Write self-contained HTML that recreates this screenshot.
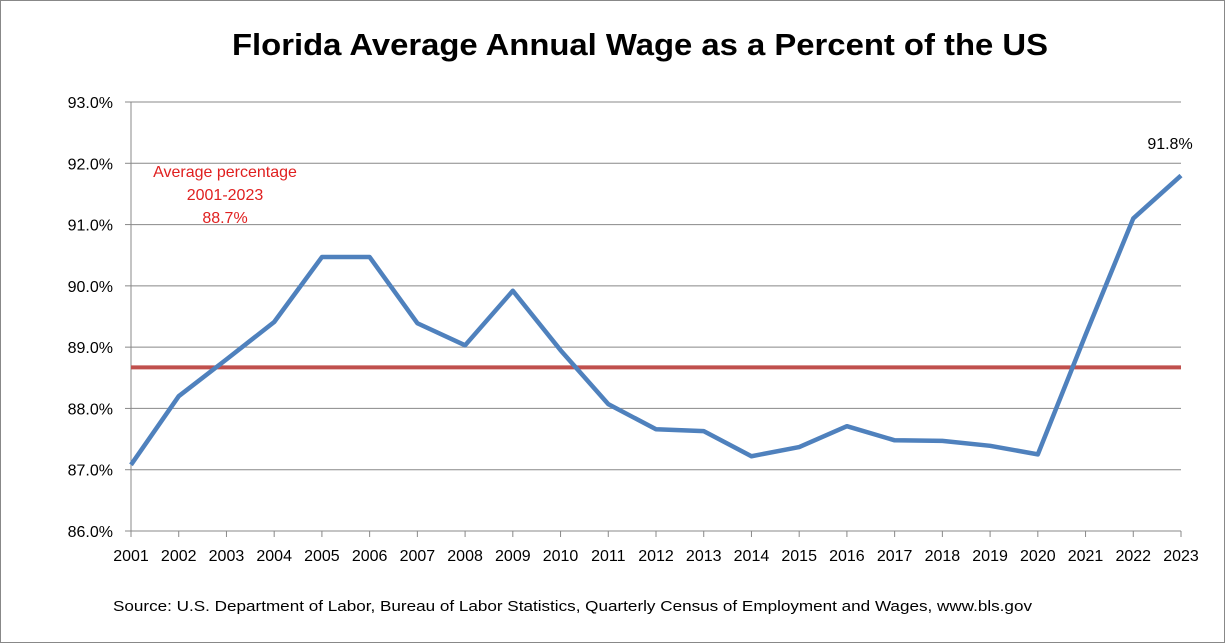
<!DOCTYPE html>
<html><head><meta charset="utf-8"><style>
body{margin:0;background:#fff;}
svg{display:block;font-family:"Liberation Sans",Arial,sans-serif;}
</style></head><body>
<svg width="1225" height="643" viewBox="0 0 1225 643">
<rect x="0.5" y="0.5" width="1224" height="642" fill="#fff" stroke="#888"/>
<text x="640" y="55" text-anchor="middle" font-size="31" font-weight="bold" fill="#000" textLength="816" lengthAdjust="spacingAndGlyphs">Florida Average Annual Wage as a Percent of the US</text>
<g id="grid"></g>
<g id="yticks"></g>
<g id="xticks"></g>
<g id="series"></g>
<text x="225" y="177" text-anchor="middle" font-size="16" fill="#e02020">Average percentage</text>
<text x="225" y="200" text-anchor="middle" font-size="16" fill="#e02020">2001-2023</text>
<text x="225" y="223" text-anchor="middle" font-size="16" fill="#e02020">88.7%</text>
<text x="1170" y="149" text-anchor="middle" font-size="16" fill="#000">91.8%</text>
<text x="113" y="611" font-size="15" fill="#000" textLength="919" lengthAdjust="spacingAndGlyphs">Source:  U.S. Department of Labor, Bureau of Labor Statistics, Quarterly Census of Employment and Wages, www.bls.gov</text>
</svg>
<script>
const years=["2001","2002","2003","2004","2005","2006","2007","2008","2009","2010","2011","2012","2013","2014","2015","2016","2017","2018","2019","2020","2021","2022","2023"];
const wagePct=[87.08,88.2,88.8,89.41,90.47,90.47,89.39,89.03,89.92,88.95,88.07,87.66,87.63,87.22,87.37,87.71,87.48,87.47,87.39,87.25,89.2,91.1,91.8];
const averagePct=88.67;
const yTicks=[86,87,88,89,90,91,92,93];
const NS="http://www.w3.org/2000/svg";
const x0=131,x1=1181,yTop=102,yBot=531,yMin=86,yMax=93;
const xs=i=>x0+(x1-x0)*i/(years.length-1);
const ys=v=>yBot-(v-yMin)/(yMax-yMin)*(yBot-yTop);
function mk(t,a,p){const e=document.createElementNS(NS,t);for(const k in a)e.setAttribute(k,a[k]);p.appendChild(e);return e;}
const grid=document.getElementById('grid'),yt=document.getElementById('yticks'),xt=document.getElementById('xticks'),se=document.getElementById('series');
yTicks.forEach(v=>{
 const l=mk('line',{x1:x0,x2:x1,y1:ys(v),y2:ys(v),stroke:'#888','stroke-width':1},grid);
 
 
 const tk=mk('line',{x1:x0-6,x2:x0,y1:ys(v),y2:ys(v),stroke:'#888'},yt);
 
 
 const t=mk('text',{x:x0-18,y:ys(v)+6,'text-anchor':'end','font-size':16},yt);
 t.textContent=v.toFixed(1)+'%';
 
 
});
const ax=mk('line',{x1:x0,x2:x0,y1:yTop,y2:yBot,stroke:'#888'},yt);


years.forEach((y,i)=>{
 const tk=mk('line',{x1:xs(i),x2:xs(i),y1:yBot,y2:yBot+6,stroke:'#888'},xt);
 
 
 const t=mk('text',{x:xs(i),y:yBot+30,'text-anchor':'middle','font-size':16},xt);
 t.textContent=y;
 
 
});
const av=mk('line',{x1:x0,x2:x1,y1:ys(averagePct),y2:ys(averagePct),stroke:'#c0504d','stroke-width':4},se);


const pl=mk('polyline',{points:wagePct.map((v,i)=>xs(i)+','+ys(v)).join(' '),fill:'none',stroke:'#4f81bd','stroke-width':4.5,'stroke-linejoin':'round'},se);


</script>
</body></html>
